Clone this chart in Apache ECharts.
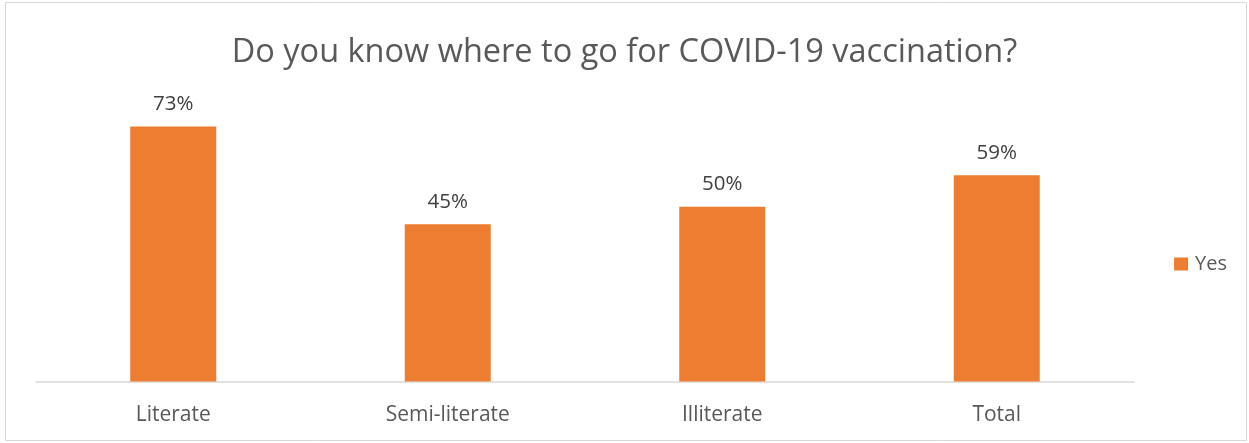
<!DOCTYPE html>
<html><head><meta charset="utf-8">
<script src="https://cdn.jsdelivr.net/npm/echarts@6/dist/echarts.min.js"></script>
<style>html,body{margin:0;padding:0;background:#fff}#c{width:1249px;height:443px}</style>
</head><body><div id="c"></div>
<script>
const categories = ["Literate", "Semi-literate", "Illiterate", "Total"];
const yesValues = [73, 45, 50, 59];
const seriesName = "Yes";
const titleText = "Do you know where to go for COVID-19 vaccination?";

const chart = echarts.init(document.getElementById('c'));
chart.setOption({
  animation: false,
  textStyle: { fontFamily: "Open Sans" },
  graphic: [{ type: 'rect', shape: { x: 5.5, y: 2.5, width: 1241, height: 438 }, style: { fill: 'none', stroke: '#d9d9d9', lineWidth: 1 }, z: -1 }],
  title: { text: titleText, left: 'center', top: 31, textStyle: { fontFamily: "Open Sans", fontSize: 32.5, fontWeight: 'normal', color: '#595959' } },
  legend: { data: [seriesName], right: 17, top: 249, orient: 'vertical', itemWidth: 14, itemHeight: 13, itemGap: 5, textStyle: { fontSize: 20, color: '#595959', fontFamily: "Open Sans", padding: [0, 0, 0, 2] }, icon: 'rect' },
  grid: { left: 36, right: 115, top: 102, bottom: 61.5, containLabel: false },
  xAxis: { type: 'category', data: categories, axisLine: { lineStyle: { color: '#d9d9d9', width: 1.5 } }, axisTick: { show: false }, axisLabel: { fontSize: 21, color: '#595959', margin: 23, fontFamily: "Open Sans" } },
  yAxis: { type: 'value', min: 0, max: 80, show: false, splitLine: { show: false } },
  series: [{ name: seriesName, type: 'bar', data: yesValues, barWidth: 86, itemStyle: { color: '#ED7D31' },
    label: { show: true, position: 'top', distance: 12, formatter: '{c}%', fontSize: 20.5, color: '#404040', fontFamily: "Open Sans" } }]
});
</script></body></html>
